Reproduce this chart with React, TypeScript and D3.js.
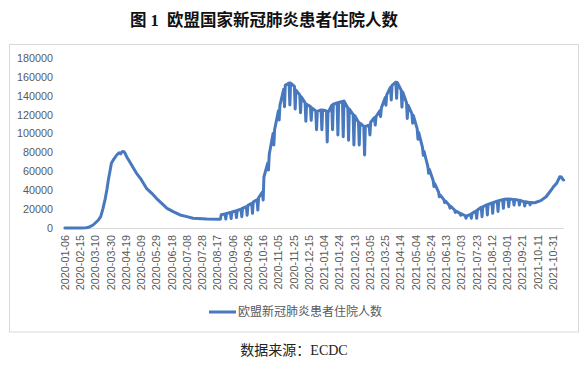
import React from "react";
import * as d3 from "d3";

// ---- Data ----
const tickLabels = [
  "2020-01-06", "2020-02-15", "2020-03-10", "2020-03-30", "2020-04-19", "2020-05-09",
  "2020-05-29", "2020-06-18", "2020-07-08", "2020-07-28", "2020-08-17", "2020-09-06",
  "2020-09-26", "2020-10-16", "2020-11-05", "2020-11-25", "2020-12-15", "2021-01-04",
  "2021-01-24", "2021-02-13", "2021-03-05", "2021-03-25", "2021-04-14", "2021-05-04",
  "2021-05-24", "2021-06-13", "2021-07-03", "2021-07-23", "2021-08-12", "2021-09-01",
  "2021-09-21", "2021-10-11", "2021-10-31",
];
const tickCategory = [
  0, 20, 40, 60, 80, 100, 120, 140, 160, 180, 200, 220, 240, 260, 280, 300, 320,
  340, 360, 380, 400, 420, 440, 460, 480, 500, 520, 540, 560, 580, 600, 620, 640,
];
const categoryCount = 655;
const yTicks = [0, 20000, 40000, 60000, 80000, 100000, 120000, 140000, 160000, 180000];

// first wave (smooth part), category index / value
const earlyDays = [0, 10, 20, 28, 31, 37, 44, 47, 50, 53, 55, 57, 59, 61, 64, 68, 71, 73, 75, 77, 79, 81, 85, 90, 94, 99, 103, 107, 114, 120, 127, 134, 142, 151, 160, 168, 186, 203];
const earlyValues = [0, 0, 100, 300, 700, 3200, 8500, 12000, 20800, 31400, 40200, 50800, 59600, 68500, 72700, 77300, 79700, 78500, 80800, 81000, 79100, 75500, 70200, 63200, 57900, 52600, 47300, 42000, 36700, 31400, 26100, 20800, 17300, 13800, 12000, 10300, 9500, 9300];

// weekly reporting pattern: dip day, dip value, value the day after, value at week end
const weekDay = [204, 211, 218, 225, 232, 239, 246, 253, 260, 267, 274, 281, 288, 295, 302, 309, 316, 323, 330, 337, 344, 351, 358, 365, 372, 379, 386, 393, 400, 407, 414, 421, 428, 435, 442, 449, 456, 463, 470, 477, 484, 491, 498, 505, 512, 519, 526, 533, 540, 547, 554, 561, 568, 575, 582, 589, 596, 603, 610];
const weekDip = [9500, 9500, 10000, 11000, 12000, 13500, 15500, 19000, 29600, 61400, 87900, 114400, 128400, 130200, 126000, 122000, 113000, 114000, 104000, 104000, 91000, 104000, 98500, 96700, 93000, 88000, 87900, 77300, 98500, 109000, 118000, 130000, 135500, 137300, 128000, 116000, 111000, 94000, 77000, 58000, 44000, 33000, 27000, 21000, 16500, 13500, 10300, 10300, 10300, 12000, 13800, 15600, 17500, 20900, 22600, 24400, 24400, 23300, 24500];
const weekTopStart = [14000, 15500, 17000, 18500, 21000, 24000, 27500, 32000, 54000, 78000, 104000, 130000, 151000, 153500, 146000, 139000, 131000, 127000, 123500, 125000, 122000, 131000, 133000, 134500, 126000, 119000, 111000, 107500, 112000, 118000, 127000, 141000, 151000, 154000, 144000, 130000, 119000, 101000, 81000, 62000, 47000, 35000, 28500, 23000, 18000, 15000, 12800, 15500, 19000, 22500, 25000, 27000, 29000, 30500, 30700, 30200, 29300, 27800, 27000];
const weekTopEnd = [15000, 16500, 18000, 20000, 22500, 26000, 30000, 38000, 68800, 100000, 124000, 147000, 153500, 150000, 141000, 132500, 128500, 124000, 125000, 124000, 130000, 132500, 134000, 127000, 120000, 112000, 107500, 109000, 117000, 124000, 138000, 149000, 154500, 146000, 132500, 121000, 105000, 85000, 65000, 50000, 38000, 30000, 24000, 19000, 15500, 13000, 14500, 18000, 22000, 24500, 26500, 28500, 30000, 30800, 30300, 29500, 28000, 27000, 26800];

// final weeks
const tailDays = [617, 624, 631, 638, 641, 645, 649, 651, 653, 654];
const tailValues = [27000, 29000, 33100, 40500, 44000, 47500, 54300, 54000, 51500, 50800];

const seriesName = "欧盟新冠肺炎患者住院人数";
const title = "图 1  欧盟国家新冠肺炎患者住院人数";
const source = "数据来源：ECDC";

const LINE_COLOR = "#4878bd";
const AXIS_TEXT = "#595959";
const LABEL_FONT = "'Liberation Sans', Arial, sans-serif";
const CJK_FONT = "'Noto Sans CJK SC', sans-serif";
const SERIF_CJK = "'Liberation Serif', 'Noto Sans CJK SC', serif";

export default function App() {
  const x = d3.scaleLinear().domain([0, categoryCount]).range([64.5, 564]);
  const y = d3.scaleLinear().domain([0, 180000]).range([228, 58]);

  const points: [number, number][] = [];
  earlyDays.forEach((d, i) => points.push([d, earlyValues[i]]));
  weekDay.forEach((d, k) => {
    points.push([d, weekDip[k]]);
    points.push([d + 1, weekTopStart[k]]);
    points.push([d + 6, weekTopEnd[k]]);
  });
  tailDays.forEach((d, i) => points.push([d, tailValues[i]]));

  const line = d3
    .line<[number, number]>()
    .x((p) => x(p[0] + 0.5))
    .y((p) => y(p[1]));

  return (
    <svg
      width={587}
      height={370}
      style={{ position: "absolute", left: 0, top: 0, background: "#fff" }}
    >
      <rect x={0} y={0} width={587} height={370} fill="#fff" />
      <text
        x={264}
        y={26}
        textAnchor="middle"
        fontFamily={SERIF_CJK}
        fontWeight="bold"
        fontSize={16.5}
        fill="#111"
        style={{ whiteSpace: "pre" }}
      >
        {title}
      </text>

      <rect x={9.5} y={44.5} width={569} height={287.5} fill="none" stroke="#d9d9d9" strokeWidth={1} />

      {/* y axis labels */}
      {yTicks.map((t) => (
        <text
          key={t}
          x={53}
          y={y(t)}
          dy="0.36em"
          textAnchor="end"
          fontFamily={LABEL_FONT}
          fontSize={10.8}
          fill={AXIS_TEXT}
        >
          {t}
        </text>
      ))}

      {/* x axis baseline */}
      <line x1={x(0)} x2={x(categoryCount)} y1={y(0) + 0.5} y2={y(0) + 0.5} stroke="#d9d9d9" strokeWidth={1} />

      {/* x labels */}
      {tickLabels.map((lab, i) => {
        const cx = x(tickCategory[i] + 0.5);
        return (
          <text
            key={lab}
            transform={`translate(${cx},235) rotate(-90)`}
            dy="0.36em"
            textAnchor="end"
            fontFamily={LABEL_FONT}
            fontSize={10.8}
            fill={AXIS_TEXT}
          >
            {lab}
          </text>
        );
      })}

      <path
        d={line(points) || ""}
        fill="none"
        stroke={LINE_COLOR}
        strokeWidth={3}
        strokeLinejoin="round"
        strokeLinecap="round"
      />

      {/* legend */}
      <line x1={209} x2={236} y1={312} y2={312} stroke={LINE_COLOR} strokeWidth={3} />
      <text x={238} y={312} dy="0.36em" fontFamily={CJK_FONT} fontSize={12} fill={AXIS_TEXT}>
        {seriesName}
      </text>

      <text
        x={294}
        y={350}
        dy="0.36em"
        textAnchor="middle"
        fontFamily={SERIF_CJK}
        fontSize={14}
        fill="#222"
      >
        {source}
      </text>
    </svg>
  );
}
